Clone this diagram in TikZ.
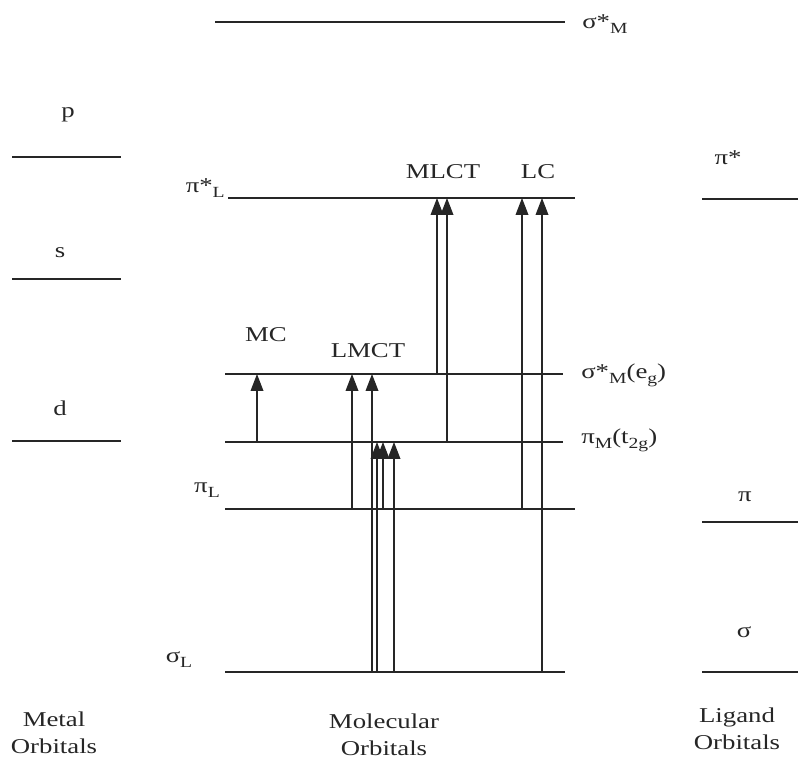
\documentclass[tikz,border=0pt]{standalone}
\usepackage{fontspec}
\setmainfont{Liberation Serif}[FakeStretch=1.27]
\usetikzlibrary{arrows.meta,calc}

\tikzset{
  level/.style={line width=1.3pt, draw=black!85},
  exc/.style={line width=0.9pt, draw=black!85, -{Triangle[width=9pt,length=12pt]}},
  lab/.style={font=\fontsize{15}{19}\selectfont, inner sep=0pt, text=black!85},
}
\newcommand{\sbs}[1]{\raisebox{-0.5ex}{\fontsize{11}{11}\selectfont #1}}

\begin{document}
\begin{tikzpicture}[x=0.025cm, y=-0.025cm]
    \useasboundingbox (0,0) rectangle (798,768);

    % levels: name / left / right / height
    \foreach \n/\xa/\xb/\y in {sigsM/215/565/22, pisL/228/575/198, sigsMe/225/563/374,
        pitM/225/563/442, piL/225/575/509, sigL/225/565/672,
        mp/12/121/157, ms/12/121/279, md/12/121/441,
        lpis/702/798/199, lpi/702/798/522, lsig/702/798/672} {
        \coordinate (\n-w) at (\xa,\y);
        \coordinate (\n-e) at (\xb,\y);
        \draw[level] (\n-w) -- (\n-e);
    }

    % Excitations
    \foreach \x/\from/\to in {257/pitM/sigsMe, 352/piL/sigsMe, 372/sigL/sigsMe,
        377/sigL/pitM, 383/piL/pitM, 394/sigL/pitM,
        437/sigsMe/pisL, 447/pitM/pisL, 522/piL/pisL, 542/sigL/pisL} {
        \draw[exc] (\x,0 |- \from-w) -- (\x,0 |- \to-w);
    }

    \node[lab] (MC) at (266,335) {MC};
    \node[lab] (LMCT) at (368,351) {LMCT};
    \node[lab] (MLCT) at (443,172) {MLCT};
    \node[lab] (LC) at (538,172) {LC};

    % level labels
    \node[lab, anchor=west] (tsigsM) at (582,24) {σ*\sbs{M}};
    \node[lab, anchor=east] (tpisL) at (225,188) {π*\sbs{L}};
    \node[lab, anchor=west] (tsigsMe) at (581,375) {σ*\sbs{M}(e\sbs{g})};
    \node[lab, anchor=west] (tpitM) at (581,440) {π\sbs{M}(t\sbs{2g})};
    \node[lab] (tpiL) at (207,490) {π\sbs{L}};
    \node[lab] (tsigL) at (179,660) {σ\sbs{L}};

    \foreach \n/\t/\x/\y in {tmp/p/68/115, tms/s/60/253, tmd/d/60/408,
        tlpis/π*/728/158, tlpi/π/745/497, tlsig/σ/744/632} {
        \node[lab] (\n) at (\x,\y) {\t};
    }

    \node[lab, align=center] (metal) at (54,733) {Metal\\Orbitals};
    \node[lab, align=center] (mol) at (384,735) {Molecular\\Orbitals};
    \node[lab, align=center] (lig) at (737,729) {Ligand\\Orbitals};
\end{tikzpicture}
\end{document}
